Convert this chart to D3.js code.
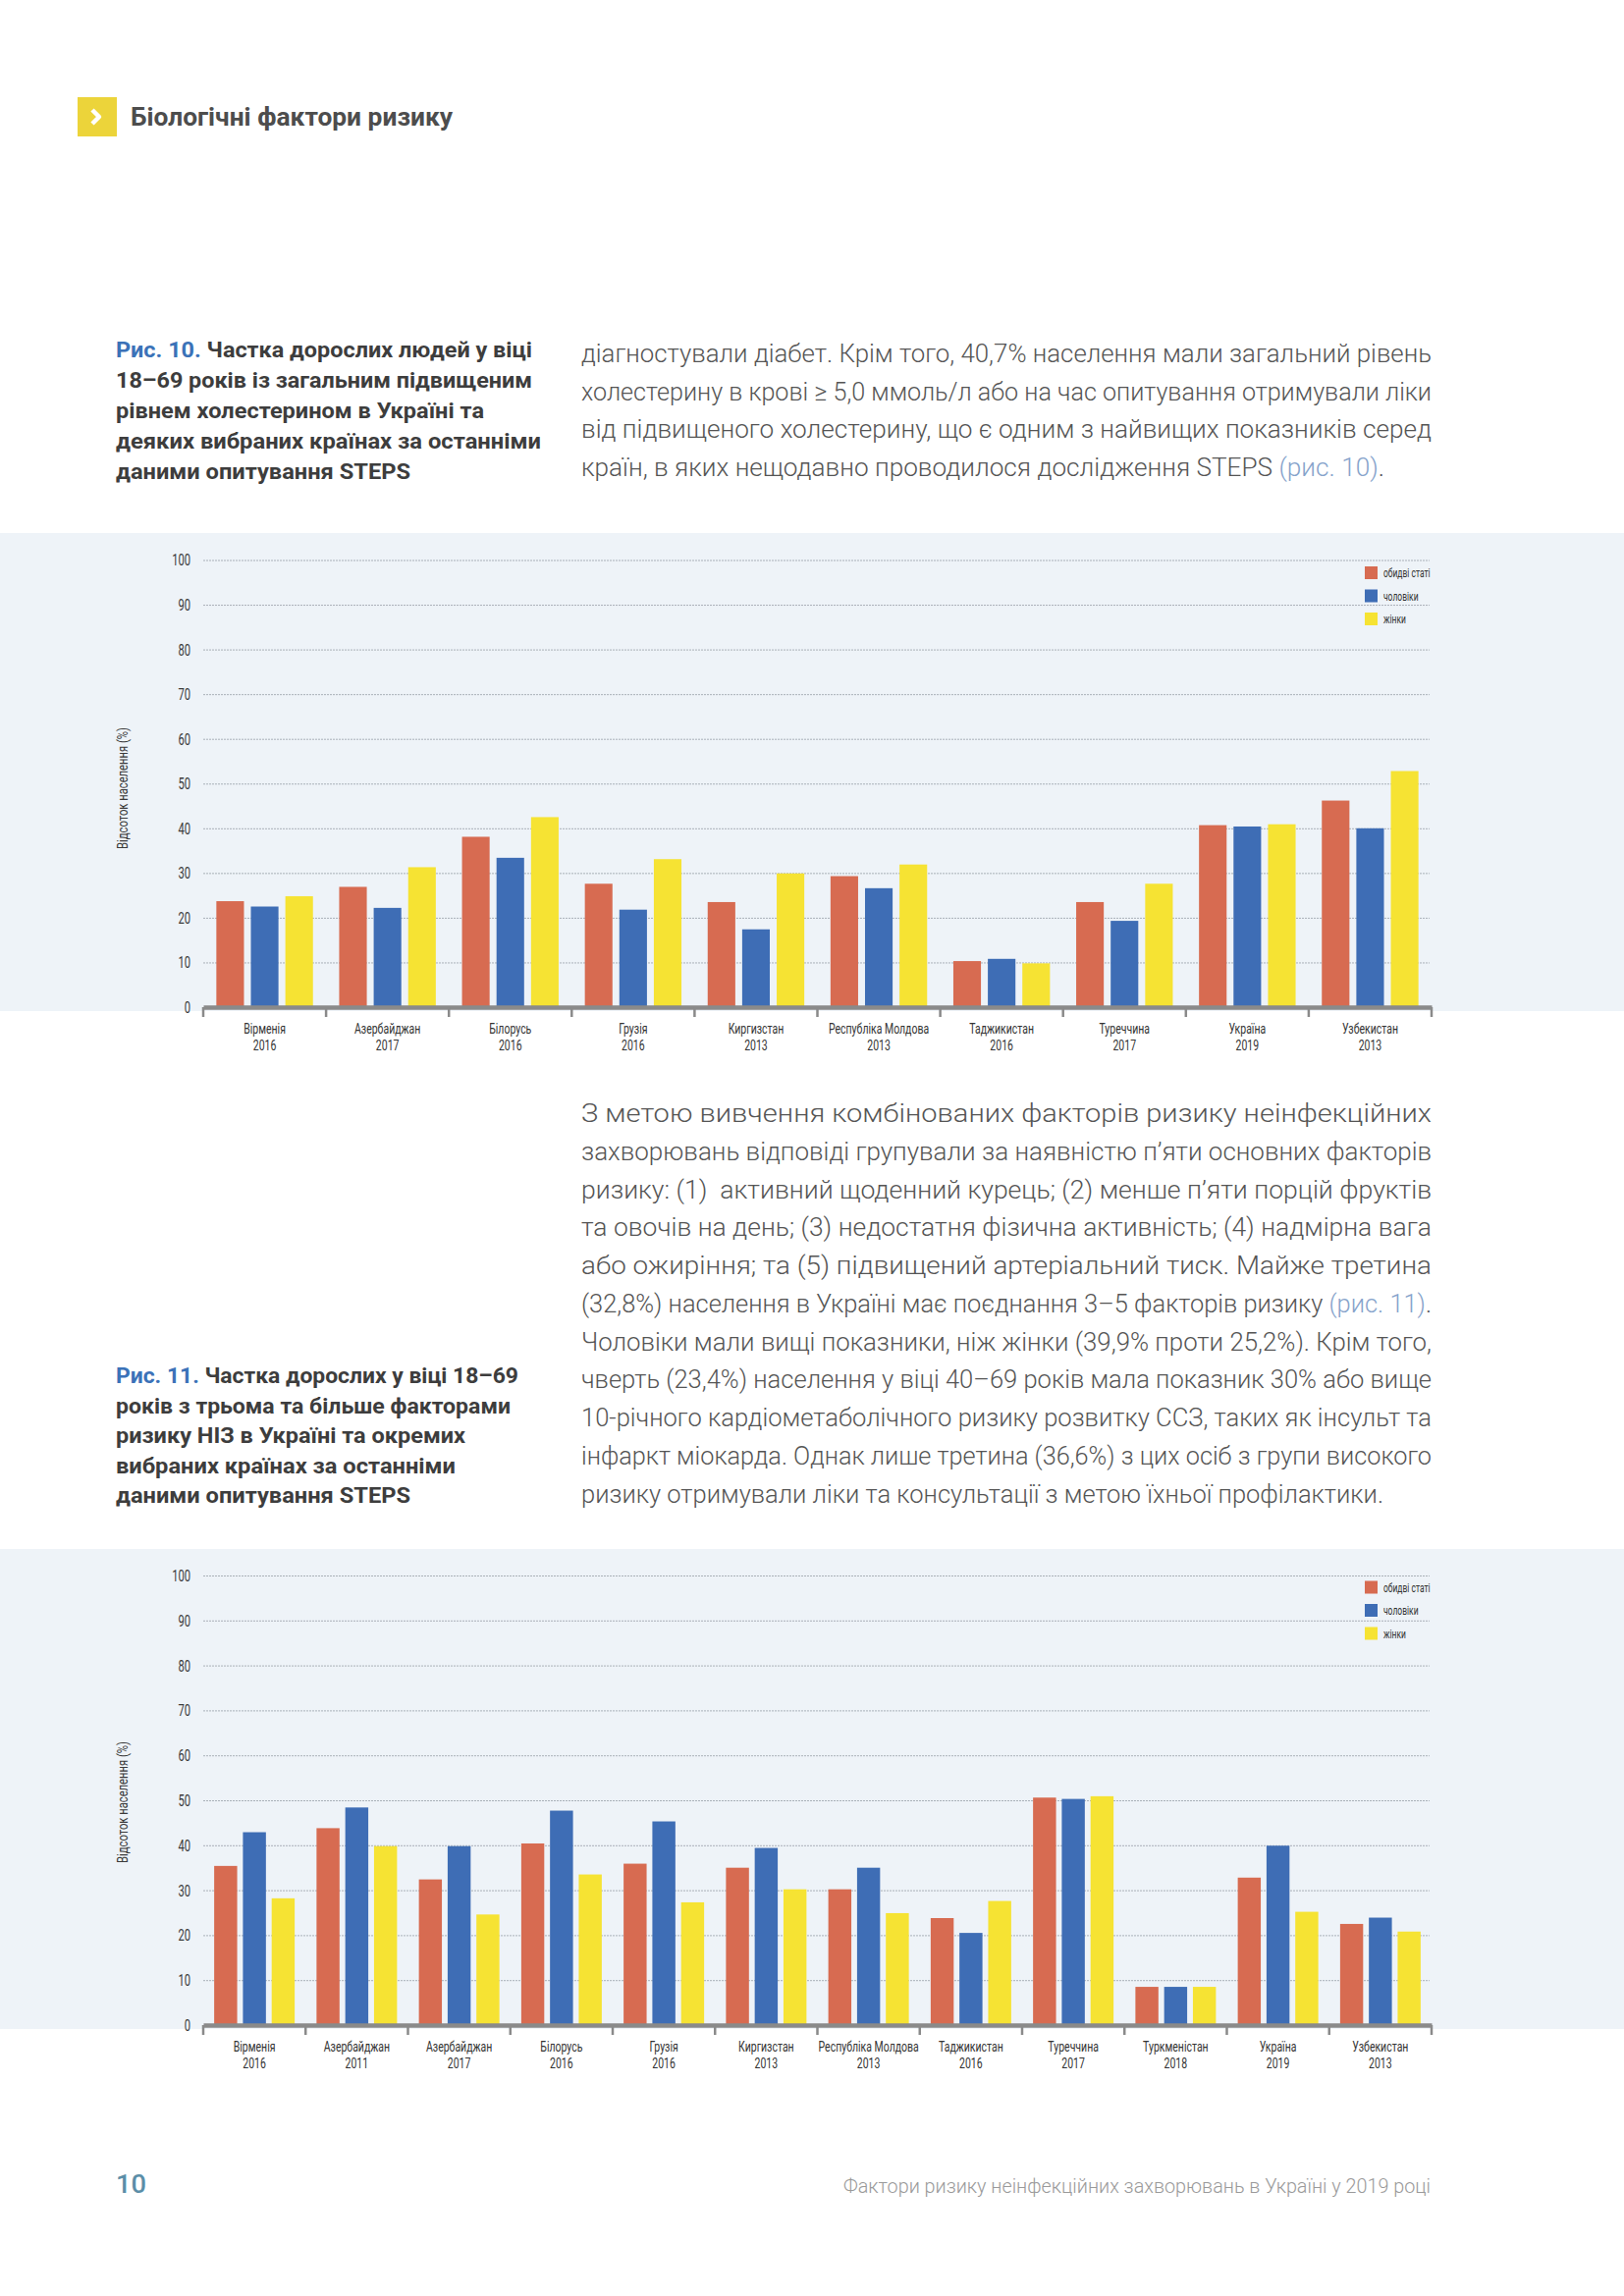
<!DOCTYPE html>
<html>
<head>
<meta charset="utf-8">
<script src="https://cdn.jsdelivr.net/npm/d3@7.9.0/dist/d3.min.js"></script>
<style>
  body { margin: 0; background: #fff; }
  svg { display: block; }
</style>
</head>
<body>
<svg id="page" width="1654" height="2339"></svg>
<script>
// DATA
const series = ['обидві статі', 'чоловіки', 'жінки'];
const seriesColors = ['#d76b51', '#3e6db5', '#f6e333'];

// Рис. 10 - загальний підвищений холестерин
const countries10 = ['Вірменія', 'Азербайджан', 'Білорусь', 'Грузія', 'Киргизстан',
  'Республіка Молдова', 'Таджикистан', 'Туреччина', 'Україна', 'Узбекистан'];
const years10 = ['2016', '2017', '2016', '2016', '2013', '2013', '2016', '2017', '2019', '2013'];
const both10 = [23.7, 26.9, 38.1, 27.6, 23.5, 29.3, 10.3, 23.5, 40.7, 46.2];
const men10 = [22.5, 22.2, 33.4, 21.8, 17.4, 26.6, 10.8, 19.3, 40.4, 40.0];
const women10 = [24.8, 31.3, 42.5, 33.1, 29.9, 31.9, 9.8, 27.6, 40.9, 52.8];

// Рис. 11 - три та більше факторів ризику НІЗ
const countries11 = ['Вірменія', 'Азербайджан', 'Азербайджан', 'Білорусь', 'Грузія', 'Киргизстан',
  'Республіка Молдова', 'Таджикистан', 'Туреччина', 'Туркменістан', 'Україна', 'Узбекистан'];
const years11 = ['2016', '2011', '2017', '2016', '2016', '2013', '2013', '2016', '2017', '2018', '2019', '2013'];
const both11 = [35.4, 43.8, 32.4, 40.4, 35.9, 35.0, 30.2, 23.8, 50.6, 8.5, 32.8, 22.5];
const men11 = [42.9, 48.4, 39.8, 47.7, 45.3, 39.4, 35.0, 20.5, 50.3, 8.5, 39.9, 23.9];
const women11 = [28.2, 39.8, 24.6, 33.5, 27.3, 30.2, 24.9, 27.6, 50.9, 8.5, 25.2, 20.8];

const yTicks = d3.range(0, 101, 10);

// TEXT
const LINK = '#86a3cb';
const caption10 = [
  [['Рис. 10. ', '#3b72b8'], 'Частка дорослих людей у віці'],
  ['18–69 років із загальним підвищеним'],
  ['рівнем холестерином в Україні та'],
  ['деяких вибраних країнах за останніми'],
  ['даними опитування STEPS']
];
const caption10W = [424, 424, 375, 433, 300];

const caption11 = [
  [['Рис. 11. ', '#3b72b8'], 'Частка дорослих у віці 18–69'],
  ['років з трьома та більше факторами'],
  ['ризику НІЗ в Україні та окремих'],
  ['вибраних країнах за останніми'],
  ['даними опитування STEPS']
];
const caption11W = [410, 402, 356, 346, 300];

const para1 = [
  ['діагностували діабет. Крім того, 40,7% населення мали загальний рівень'],
  ['холестерину в крові ≥ 5,0 ммоль/л або на час опитування отримували ліки'],
  ['від підвищеного холестерину, що є одним з найвищих показників серед'],
  ['країн, в яких нещодавно проводилося дослідження STEPS ', ['(рис. 10)', LINK], '.']
];
const para1W = [866, 866, 866, 818];

const para2 = [
  ['З метою вивчення комбінованих факторів ризику неінфекційних'],
  ['захворювань відповіді групували за наявністю п’яти основних факторів'],
  ['ризику: (1)\u00a0 активний щоденний курець; (2) менше п’яти порцій фруктів'],
  ['та овочів на день; (3) недостатня фізична активність; (4) надмірна вага'],
  ['або ожиріння; та (5) підвищений артеріальний тиск. Майже третина'],
  ['(32,8%) населення в Україні має поєднання 3–5 факторів ризику ', ['(рис. 11)', LINK], '.'],
  ['Чоловіки мали вищі показники, ніж жінки (39,9% проти 25,2%). Крім того,'],
  ['чверть (23,4%) населення у віці 40–69 років мала показник 30% або вище'],
  ['10-річного кардіометаболічного ризику розвитку ССЗ, таких як інсульт та'],
  ['інфаркт міокарда. Однак лише третина (36,6%) з цих осіб з групи високого'],
  ['ризику отримували ліки та консультації з метою їхньої профілактики.']
];
const para2W = [866, 866, 866, 866, 866, 866, 866, 866, 866, 866, 817];

const W = 1654;
const svg = d3.select('#page');

function addLine(x, y, parts, o) {
  const t = svg.append('text')
    .attr('x', x).attr('y', y)
    .attr('font-family', o.family || 'Roboto')
    .attr('font-size', o.size)
    .attr('font-weight', o.weight || 400)
    .attr('fill', o.color)
    .attr('text-anchor', o.anchor || 'start');
  if (o.width) t.attr('textLength', o.width).attr('lengthAdjust', o.adjust || 'spacingAndGlyphs');
  parts.forEach(p => {
    if (typeof p === 'string') t.append('tspan').text(p);
    else t.append('tspan').attr('fill', p[1]).text(p[0]);
  });
  return t;
}

// HEADER
svg.append('rect').attr('x', 79).attr('y', 99).attr('width', 40).attr('height', 40).attr('fill', '#ecd43a');
svg.append('path').attr('d', 'M94,112 L101,119 L94,126')
  .attr('fill', 'none').attr('stroke', '#fff').attr('stroke-width', 4.5).attr('stroke-linejoin', 'round');
addLine(133, 128, ['Біологічні фактори ризику'], { size: 25, weight: 700, color: '#4d4d4d', width: 328 });

// CAPTIONS + BODY
caption10.forEach((l, i) => addLine(118, 364 + i * 31, l, { size: 22, weight: 700, color: '#3d3d3d', width: caption10W[i] }));
para1.forEach((l, i) => addLine(592, 369 + i * 38.6, l, { size: 25.5, weight: 300, color: '#555', width: para1W[i] }));
caption11.forEach((l, i) => addLine(118, 1409 + i * 30.5, l, { size: 22, weight: 700, color: '#3d3d3d', width: caption11W[i] }));
para2.forEach((l, i) => addLine(592, 1143 + i * 38.77, l, { size: 25.5, weight: 300, color: '#555', width: para2W[i] }));

// FOOTER
addLine(118, 2234, ['10'], { size: 26, weight: 500, color: '#5b8ea8', width: 31 });
addLine(1457, 2234, ['Фактори ризику неінфекційних захворювань в Україні у 2019 році'],
  { size: 20, weight: 300, color: '#9a9a9a', width: 598, anchor: 'end' });

// CHART
function drawChart(cfg) {
  const g = svg.append('g');
  g.append('rect').attr('x', 0).attr('y', cfg.panel[0]).attr('width', W)
    .attr('height', cfg.panel[1] - cfg.panel[0]).attr('fill', '#eef3f8');

  const x0 = d3.scaleBand().domain(d3.range(cfg.countries.length)).range([207, 1458]);
  const x1 = d3.scaleBand().domain(series).range([0, x0.bandwidth()]).paddingInner(0.2).paddingOuter(0.38);
  const y = d3.scaleLinear().domain([0, 100]).range([cfg.y0, cfg.y100]);
  const color = d3.scaleOrdinal().domain(series).range(seriesColors);

  // dotted grid
  const grid = g.append('g').attr('transform', 'translate(207,0)')
    .call(d3.axisLeft(y).tickValues(yTicks.slice(1)).tickSize(-1249).tickFormat(''));
  grid.select('.domain').remove();
  grid.selectAll('line').attr('stroke', '#a9b0b8').attr('stroke-dasharray', '2,1');

  // y labels
  const yl = g.append('g').attr('transform', 'translate(207,0)')
    .call(d3.axisLeft(y).tickValues(yTicks).tickSize(0).tickPadding(0));
  yl.select('.domain').remove();
  yl.selectAll('text').attr('x', -19.5).attr('transform', 'scale(0.66,1)')
    .attr('font-family', 'Roboto').attr('font-size', 17).attr('fill', '#3a3a3a');

  // y title
  g.append('text').attr('transform', `translate(130,${cfg.titleY}) rotate(-90)`)
    .attr('text-anchor', 'middle').attr('font-family', 'Roboto').attr('font-size', 14.5)
    .attr('fill', '#3a3a3a').attr('textLength', 124).attr('lengthAdjust', 'spacingAndGlyphs')
    .text('Відсоток населення (%)');

  // bars
  const rows = cfg.countries.map((c, i) => ({ i, vals: series.map((s, k) => ({ s, v: cfg.values[k][i] })) }));
  g.append('g').selectAll('g').data(rows).join('g')
    .attr('transform', d => `translate(${x0(d.i)},0)`)
    .selectAll('rect').data(d => d.vals).join('rect')
    .attr('x', d => x1(d.s)).attr('width', x1.bandwidth())
    .attr('y', d => y(d.v)).attr('height', d => y(0) - y(d.v))
    .attr('fill', d => color(d.s));

  // x axis
  const xa = g.append('g').attr('transform', `translate(0,${y(0)})`)
    .call(d3.axisBottom(x0).tickSize(0).tickPadding(0));
  xa.select('.domain').attr('stroke', '#8a8a8a').attr('stroke-width', 4.5);
  xa.selectAll('.tick text').each(function (i) {
    const t = d3.select(this).text(null).attr('y', 0).attr('dy', null)
      .attr('transform', 'scale(0.7,1)')
      .attr('font-family', 'Roboto').attr('font-size', 15).attr('fill', '#333');
    t.append('tspan').attr('x', 0).attr('y', 27.5).text(cfg.countries[i]);
    t.append('tspan').attr('x', 0).attr('y', 44).text(cfg.years[i]);
  });
  const edges = d3.range(cfg.countries.length + 1).map(i => x0.range()[0] + i * x0.step());
  xa.selectAll('line.edge').data(edges).join('line').attr('class', 'edge')
    .attr('x1', d => d).attr('x2', d => d).attr('y1', 0).attr('y2', 10)
    .attr('stroke', '#8a8a8a').attr('stroke-width', 2.5);

  // legend
  const lg = g.append('g').selectAll('g').data(series).join('g')
    .attr('transform', (d, k) => `translate(1390,${cfg.legendY + k * 23.5})`);
  lg.append('rect').attr('x', 0).attr('y', -6.5).attr('width', 13).attr('height', 13).attr('fill', d => color(d));
  lg.append('text').attr('transform', 'translate(19,4.5) scale(0.68,1)')
    .attr('font-family', 'Roboto').attr('font-size', 12.5).attr('fill', '#333').text(d => d);
}

drawChart({
  countries: countries10, years: years10, values: [both10, men10, women10],
  y0: 1026, y100: 570.5, panel: [543, 1030], legendY: 583.5, titleY: 803
});
drawChart({
  countries: countries11, years: years11, values: [both11, men11, women11],
  y0: 2063, y100: 1605, panel: [1578, 2067], legendY: 1617, titleY: 1836
});
</script>
</body>
</html>
